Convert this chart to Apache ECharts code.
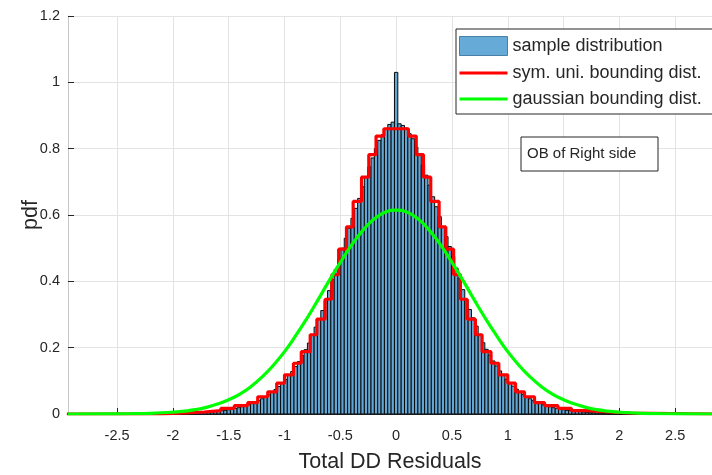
<!DOCTYPE html>
<html>
<head>
<meta charset="utf-8">
<script src="https://cdn.jsdelivr.net/npm/echarts@6/dist/echarts.min.js"></script>
<style>html,body{margin:0;padding:0;background:#fff;}#c{width:712px;height:475px;}</style>
</head>
<body>
<div id="c"></div>
<script>
// ---- data ----
var binWidth = 0.03;
var histCenters = [
 -2.01,-1.98,-1.95,-1.92,-1.89,-1.86,-1.83,-1.80,-1.77,-1.74,-1.71,-1.68,-1.65,-1.62,-1.59,-1.56,-1.53,-1.50,-1.47,-1.44,
 -1.41,-1.38,-1.35,-1.32,-1.29,-1.26,-1.23,-1.20,-1.17,-1.14,-1.11,-1.08,-1.05,-1.02,-0.99,-0.96,-0.93,-0.90,-0.87,-0.84,
 -0.81,-0.78,-0.75,-0.72,-0.69,-0.66,-0.63,-0.60,-0.57,-0.54,-0.51,-0.48,-0.45,-0.42,-0.39,-0.36,-0.33,-0.30,-0.27,-0.24,
 -0.21,-0.18,-0.15,-0.12,-0.09,-0.06,-0.03,0.00,0.03,0.06,0.09,0.12,0.15,0.18,0.21,0.24,0.27,0.30,0.33,0.36,
 0.39,0.42,0.45,0.48,0.51,0.54,0.57,0.60,0.63,0.66,0.69,0.72,0.75,0.78,0.81,0.84,0.87,0.90,0.93,0.96,
 0.99,1.02,1.05,1.08,1.11,1.14,1.17,1.20,1.23,1.26,1.29,1.32,1.35,1.38,1.41,1.44,1.47,1.50,1.53,1.56,
 1.59,1.62,1.65,1.68,1.71,1.74,1.77,1.80,1.83,1.86,1.89,1.92,1.95,1.98,2.01
];
var histValues = [
 0.0005,0.001,0.001,0.001,0.002,0.002,0.003,0.003,0.004,0.004,0.005,0.006,0.007,0.008,0.009,0.010,0.011,0.013,0.015,0.017,
 0.019,0.022,0.025,0.028,0.032,0.036,0.041,0.046,0.052,0.058,0.065,0.074,0.083,0.093,0.104,0.116,0.128,0.143,0.158,0.176,
 0.194,0.214,0.238,0.262,0.286,0.312,0.342,0.372,0.405,0.436,0.468,0.500,0.530,0.560,0.590,0.620,0.650,0.685,0.713,0.745,
 0.772,0.800,0.825,0.842,0.860,0.873,0.880,1.030,0.875,0.870,0.862,0.845,0.830,0.805,0.780,0.750,0.720,0.690,0.655,0.625,
 0.595,0.565,0.535,0.505,0.475,0.440,0.410,0.375,0.345,0.315,0.290,0.265,0.240,0.215,0.195,0.178,0.160,0.145,0.130,0.118,
 0.105,0.094,0.084,0.075,0.066,0.059,0.052,0.046,0.041,0.036,0.032,0.028,0.025,0.022,0.019,0.017,0.015,0.013,0.011,0.010,
 0.009,0.008,0.007,0.006,0.005,0.004,0.004,0.003,0.003,0.002,0.002,0.001,0.001,0.001,0.0005
];
var redX = [-2.95,-2.1,-1.9,-1.72,-1.57,-1.45,-1.33,-1.24,-1.15,-1.07,-1.0,-0.92,-0.85,-0.77,-0.71,-0.636,-0.576,-0.515,-0.445,-0.385,-0.31,-0.245,-0.18,-0.11,
            0.11,0.18,0.245,0.31,0.385,0.445,0.515,0.576,0.636,0.71,0.77,0.85,0.92,1.0,1.07,1.15,1.24,1.33,1.45,1.57,1.72,1.9,2.1,2.83];
var redY = [0,0.003,0.006,0.01,0.017,0.025,0.034,0.052,0.067,0.093,0.118,0.153,0.188,0.239,0.286,0.346,0.42,0.497,0.564,0.641,0.714,0.782,0.838,0.86,
            0.838,0.782,0.714,0.641,0.564,0.497,0.42,0.346,0.286,0.239,0.188,0.153,0.118,0.093,0.067,0.052,0.034,0.025,0.017,0.01,0.006,0.003,0,0];
var greenX = [-2.94,-2.6,-2.4,-2.2,-2.0,-1.9,-1.8,-1.7,-1.6,-1.5,-1.4,-1.3,-1.2,-1.1,-1.0,-0.9,-0.8,-0.7,-0.6,-0.5,-0.4,-0.3,-0.2,-0.1,0,
              0.1,0.2,0.3,0.4,0.5,0.6,0.7,0.8,0.9,1.0,1.1,1.2,1.3,1.4,1.5,1.6,1.7,1.8,1.9,2.0,2.2,2.4,2.6,2.83];
var greenY = [0,0.0002,0.0007,0.002,0.0054,0.0086,0.013,0.020,0.030,0.043,0.060,0.083,0.112,0.147,0.188,0.236,0.288,0.344,0.402,0.457,0.509,0.553,0.587,0.608,0.615,
              0.608,0.587,0.553,0.509,0.457,0.402,0.344,0.288,0.236,0.188,0.147,0.112,0.083,0.060,0.043,0.030,0.020,0.013,0.0086,0.0054,0.002,0.0007,0.0002,0];
var xTickLabels = [-2.5,-2,-1.5,-1,-0.5,0,0.5,1,1.5,2,2.5];
var yTickLabels = [0,0.2,0.4,0.6,0.8,1,1.2];
var seriesNames = ['sample distribution','sym. uni. bounding dist.','gaussian bounding dist.'];
var noteText = 'OB of Right side';

function pairs(xs, ys){ var o=[]; for(var i=0;i<xs.length;i++) o.push([xs[i], ys[i]]); return o; }

var chart = echarts.init(document.getElementById('c'), null, {renderer:'canvas'});
var FONT = 'Liberation Sans, Arial, sans-serif';
var LINE_ICON = 'path://M0,0L48,0L48,3L0,3Z';
var option = {
  animation: false,
  backgroundColor: '#fff',
  grid: {left: 68, right: 0, top: 16, bottom: 61, containLabel: false, outerBoundsMode: 'none'},
  xAxis: {
    type: 'value', min: -2.94, max: 2.83,
    name: 'Total DD Residuals', nameLocation: 'middle', nameGap: 37, nameMoveOverlap: false,
    nameTextStyle: {fontFamily: FONT, fontSize: 21.5, color: '#262626'},
    axisLine: {show: true, onZero: false, lineStyle: {color: '#262626', width: 1}},
    axisTick: {show: true, inside: true, length: 6, lineStyle: {color: '#262626'}, customValues: xTickLabels},
    axisLabel: {show: true, customValues: xTickLabels, margin: 14, fontFamily: FONT, fontSize: 14.5, color: '#262626',
                formatter: function(v){ return String(v); }},
    splitLine: {show: true, lineStyle: {color: '#e3e3e3', width: 1}}
  },
  yAxis: {
    type: 'value', min: 0, max: 1.2, interval: 0.2,
    name: 'pdf', nameLocation: 'middle', nameGap: 26, nameRotate: 90, nameMoveOverlap: false,
    nameTextStyle: {fontFamily: FONT, fontSize: 21.5, color: '#262626'},
    axisLine: {show: true, onZero: false, lineStyle: {color: '#c8c8c8', width: 1}},
    axisTick: {show: true, inside: true, length: 6, lineStyle: {color: '#262626'}},
    axisLabel: {margin: 8, fontFamily: FONT, fontSize: 14.5, color: '#262626',
                formatter: function(v){ return String(Math.round(v*10)/10); }},
    splitLine: {show: true, lineStyle: {color: '#e3e3e3', width: 1}}
  },
  legend: {
    orient: 'vertical', left: 456, top: 29,
    itemWidth: 48, itemHeight: 19, itemGap: 8, itemTextGap: 4,
    padding: [7, 20, 6, 3],
    borderColor: '#262626', borderWidth: 1, backgroundColor: '#fff',
    textStyle: {fontFamily: FONT, fontSize: 18, color: '#262626'},
    data: [
      {name: seriesNames[0], icon: 'rect', itemStyle: {color: '#66aad7', borderColor: '#4a7fa8', borderWidth: 1}},
      {name: seriesNames[1], icon: LINE_ICON, itemStyle: {color: '#ff0000', borderWidth: 0}},
      {name: seriesNames[2], icon: LINE_ICON, itemStyle: {color: '#00ff00', borderWidth: 0}}
    ]
  },
  series: [
    {
      name: seriesNames[0], type: 'custom', z: 2,
      itemStyle: {color: '#66aad7'},
      data: pairs(histCenters, histValues),
      renderItem: function(params, api){
        var x = api.value(0), y = api.value(1);
        var p0 = api.coord([x - binWidth/2, y]);
        var p1 = api.coord([x + binWidth/2, 0]);
        return {type: 'rect', shape: {x: p0[0], y: p0[1], width: p1[0]-p0[0], height: p1[1]-p0[1]},
                style: {fill: '#62a6d4', stroke: '#0a0a0a', lineWidth: 1}};
      }
    },
    {
      name: seriesNames[1], type: 'line', step: 'end', z: 3, symbol: 'none',
      lineStyle: {color: '#ff0000', width: 3.2}, itemStyle: {color: '#ff0000'},
      data: pairs(redX, redY)
    },
    {
      name: seriesNames[2], type: 'line', smooth: true, z: 4, symbol: 'none',
      lineStyle: {color: '#00ff00', width: 3.2}, itemStyle: {color: '#00ff00'},
      data: pairs(greenX, greenY)
    }
  ],
  graphic: [
    {type: 'rect', z: 100, x: 521, y: 137, shape: {x: 0, y: 0, width: 137, height: 34}, style: {fill: '#fff', stroke: '#262626', lineWidth: 1}},
    {type: 'text', z: 101, x: 527, y: 154, style: {text: noteText, fontFamily: FONT, fontSize: 15, fill: '#262626', verticalAlign: 'middle'}}
  ]
};
chart.setOption(option);
</script>
</body>
</html>
